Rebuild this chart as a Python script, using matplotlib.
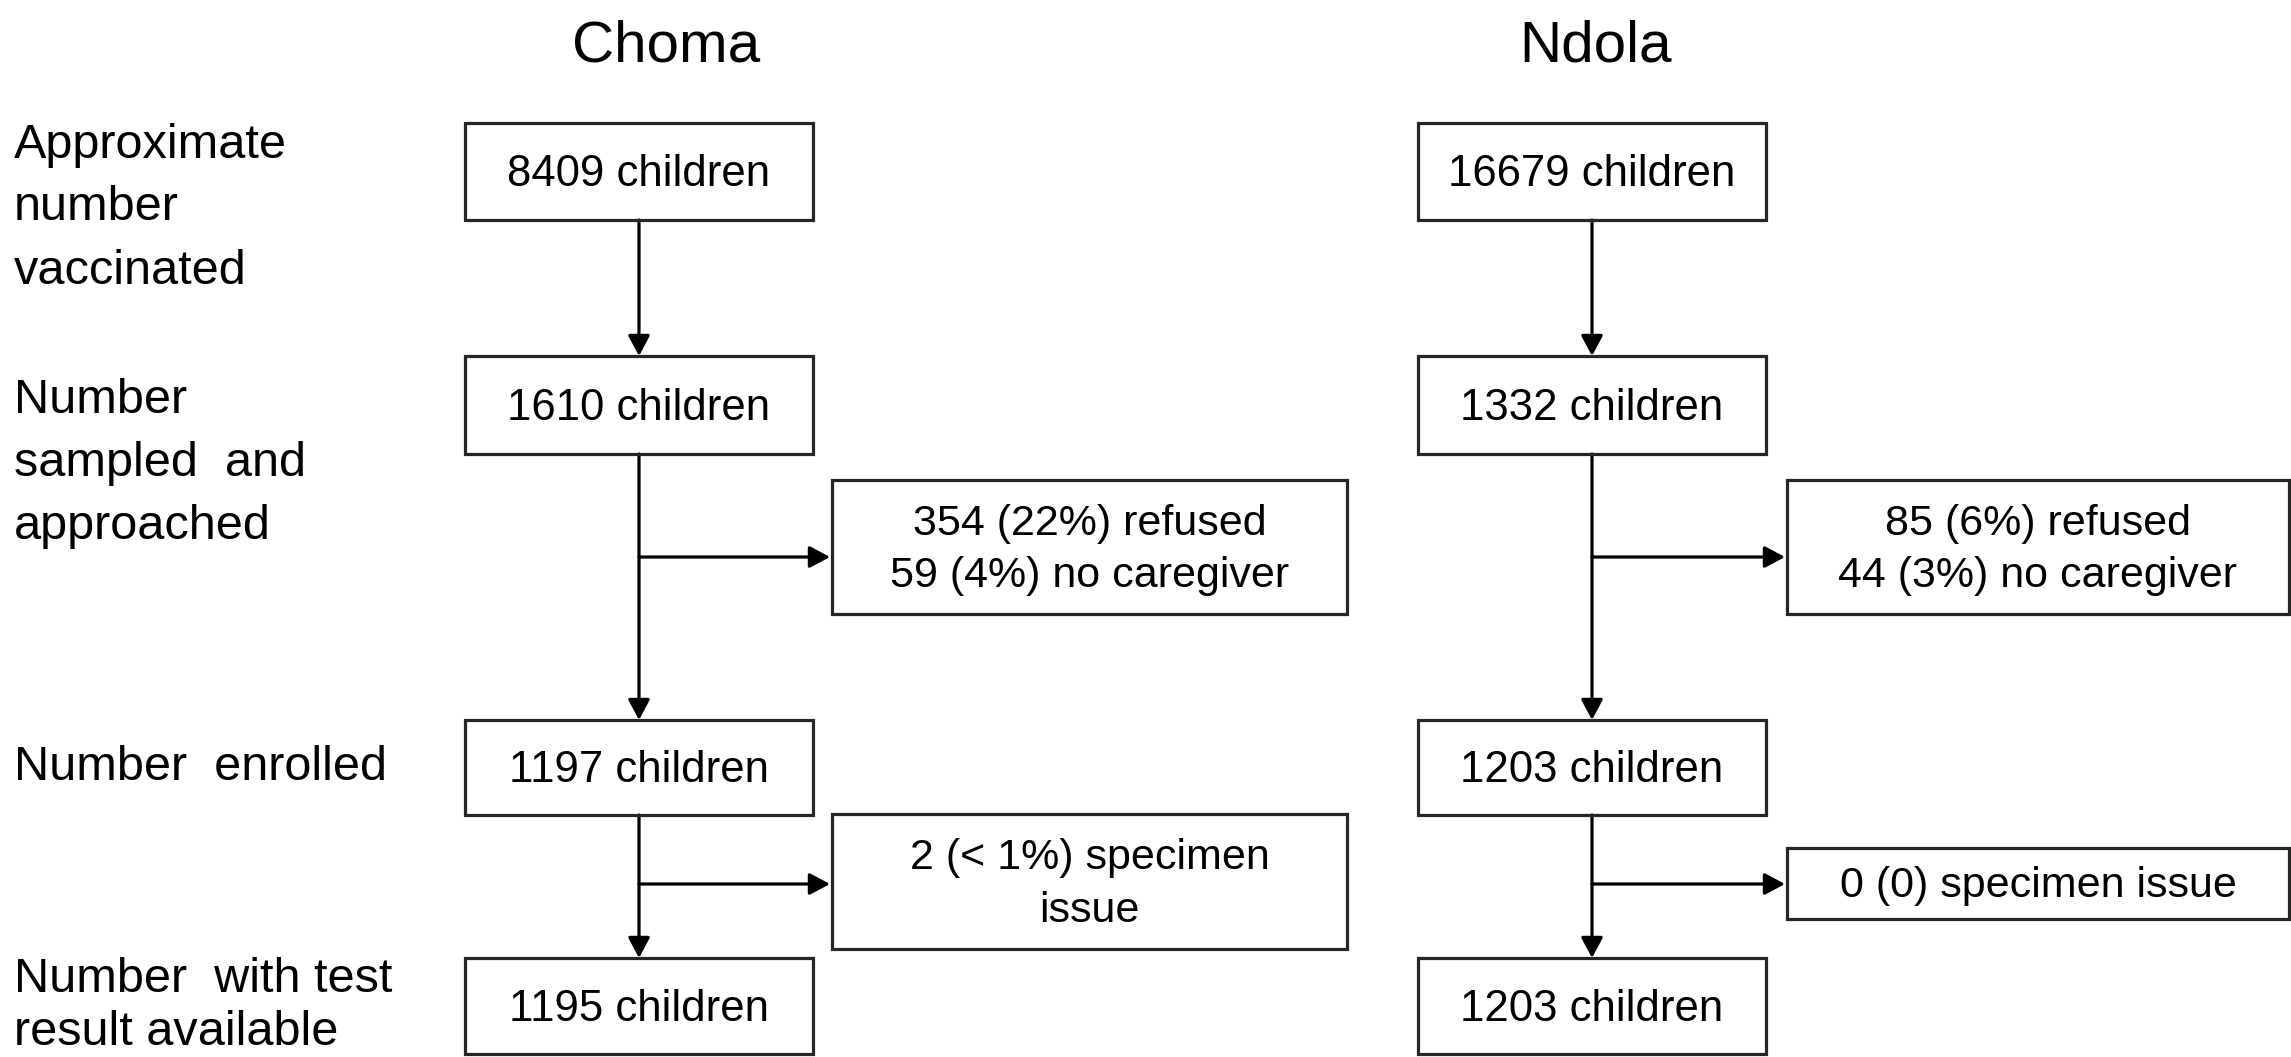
import matplotlib.pyplot as plt
from matplotlib.patches import Rectangle

plt.rcParams['font.family'] = ['Liberation Sans', 'DejaVu Sans']

# Dados do fluxograma
sites = ['Choma', 'Ndola']
stage_labels = [
    ['Approximate', 'number', 'vaccinated'],
    ['Number', 'sampled  and', 'approached'],
    ['Number  enrolled'],
    ['Number  with test', 'result available'],
]
choma_counts = [8409, 1610, 1197, 1195]
ndola_counts = [16679, 1332, 1203, 1203]
choma_excluded = [['354 (22%) refused', '59 (4%) no caregiver'],
                  ['2 (< 1%) specimen', 'issue']]
ndola_excluded = [['85 (6%) refused', '44 (3%) no caregiver'],
                  ['0 (0) specimen issue']]

# Layout (pixels, origin top-left)
W, H = 2291, 1057
title_x = [666, 1595]
title_base = 62
col_left = [465, 1418]
col_w = 348
box_y = [(123, 220), (356, 454), (720, 815), (958, 1054)]
side_left = [832, 1787]
side_w = [515, 502]
side_y = [[(480, 614), (814, 949)], [(480, 614), (848, 919)]]
branch_y = [557, 884]
label_base = [[158, 220, 284], [413, 476, 539], [780], [992, 1045]]

EDGE = '#262626'
LW = 2.3

fig = plt.figure(figsize=(W / 100, H / 100), dpi=100)
ax = fig.add_axes([0, 0, 1, 1])
ax.set_xlim(0, W)
ax.set_ylim(H, 0)
ax.axis('off')


def box(x0, y0, x1, y1):
    ax.add_patch(Rectangle((x0, y0), x1 - x0, y1 - y0, fill=False,
                           edgecolor=EDGE, linewidth=LW, zorder=3))


def arrow(x0, y0, x1, y1):
    ax.annotate('', xy=(x1, y1), xytext=(x0, y0),
                arrowprops=dict(arrowstyle='-|>,head_length=0.62,head_width=0.33',
                                mutation_scale=20, color='black', lw=LW,
                                shrinkA=0, shrinkB=0), zorder=2)


def centered_lines(cx, cy, lines, size, spacing=53):
    n = len(lines)
    for i, line in enumerate(lines):
        mid = cy + (i - (n - 1) / 2) * spacing
        ax.text(cx, mid + 14, line, ha='center', va='baseline',
                fontsize=size, color='black')


# Rótulos das etapas (esquerda)
for lines, bases in zip(stage_labels, label_base):
    for line, b in zip(lines, bases):
        ax.text(14, b, line, ha='left', va='baseline', fontsize=35, color='black')

for k, (site, counts, excluded) in enumerate(zip(sites, [choma_counts, ndola_counts],
                                                   [choma_excluded, ndola_excluded])):
    ax.text(title_x[k], title_base, site, ha='center', va='baseline',
            fontsize=42, color='black')
    x0 = col_left[k]
    x1 = x0 + col_w
    cx = (x0 + x1) / 2
    for (y0, y1), n in zip(box_y, counts):
        box(x0, y0, x1, y1)
        ax.text(cx, (y0 + y1) / 2 + 15, f'{n} children', ha='center',
                va='baseline', fontsize=31.5, color='black')
    # setas verticais
    for i in range(len(box_y) - 1):
        arrow(cx, box_y[i][1], cx, box_y[i + 1][0])
    # caixas de exclusão
    sx0 = side_left[k]
    sx1 = sx0 + side_w[k]
    for (sy0, sy1), lines, by in zip(side_y[k], excluded, branch_y):
        box(sx0, sy0, sx1, sy1)
        centered_lines((sx0 + sx1) / 2, (sy0 + sy1) / 2, lines, 31)
        arrow(cx, by, sx0 - 2, by)

fig.savefig('out.png', dpi=100, facecolor='white')
